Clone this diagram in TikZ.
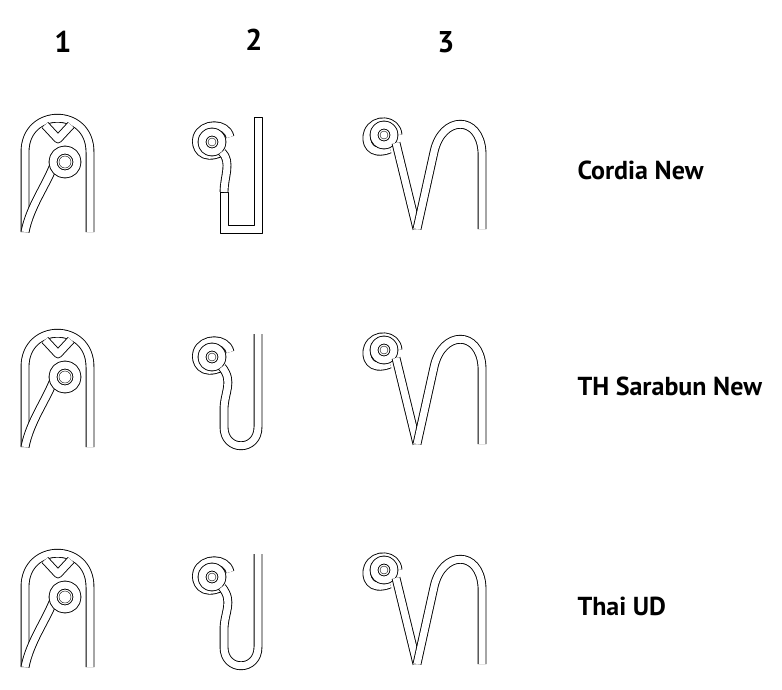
\documentclass[tikz,border=0pt]{standalone}
\usepackage{fontspec}
\setmainfont{PT Sans}
\begin{document}
\begin{tikzpicture}[x=1pt,y=-1pt,
  gl/.style={line width=0.9pt, double=white, double distance=7pt, line join=round},
  lab/.style={font=\fontsize{26}{30}\selectfont\bfseries, anchor=west},
  num/.style={font=\fontsize{30}{34}\selectfont\bfseries}]
\useasboundingbox (0,0) rectangle (782,689);
\newcommand\glyphA{%
  \draw[gl] (5,125) -- (5,45) .. controls (5,0) and (70,0) .. (70,45) -- (70,125);
  \draw[gl] (25,18) -- (38,32) -- (51,18);
  \draw[gl] (33,60) .. controls (25,80) and (10,100) .. (5,125);
  \draw[gl] (45,55) circle (12);
  \draw[thin] (45,55) circle (6);}
\newcommand\glyphB[1]{%
  \draw[gl] (30,45) .. controls (10,55) and (2,40) .. (5,30) .. controls (10,15) and (35,15) .. (38,30);
  \draw[gl] (20,35) circle (10);
  \draw[thin] (20,35) circle (4);
  \ifnum#1=1
    \draw[line width=0.9pt, line join=round] (62,10) -- (70,10) -- (70,126) -- (28,126) -- (28,85) -- (36,85) -- (36,118) -- (62,118) -- cycle;
    \draw[gl] (30,45) .. controls (40,55) and (32,70) .. (32,85);
  \else
    \draw[gl] (30,45) .. controls (42,60) and (32,70) .. (32,88) -- (32,105) .. controls (32,130) and (66,130) .. (66,105) -- (66,12);
  \fi}
\newcommand\glyphC{%
  \draw[gl] (28,42) .. controls (8,50) and (2,35) .. (6,25) .. controls (12,10) and (35,12) .. (36,28);
  \draw[gl] (22,28) circle (10);
  \draw[thin] (22,28) circle (4);
  \draw[gl] (34,36) -- (55,122);
  \draw[gl] (55,122) -- (72,45) .. controls (80,8) and (118,8) .. (120,45) -- (120,122);}
\node[num] (n1) at (63,42) {1};
\node[num] (n2) at (254,40) {2};
\node[num] (n3) at (446,42) {3};
\foreach \r/\yy in {1/107,2/322,3/542}{
  \begin{scope}[shift={(20,\yy)}] \glyphA \end{scope}
  \begin{scope}[shift={(192,\yy)}] \glyphB{\r} \end{scope}
  \begin{scope}[shift={(362,\yy)}] \glyphC \end{scope}
}
\node[lab] (l1) at (574,170) {Cordia New};
\node[lab] (l2) at (574,386) {TH Sarabun New};
\node[lab] (l3) at (574,606) {Thai UD};
\end{tikzpicture}
\end{document}
